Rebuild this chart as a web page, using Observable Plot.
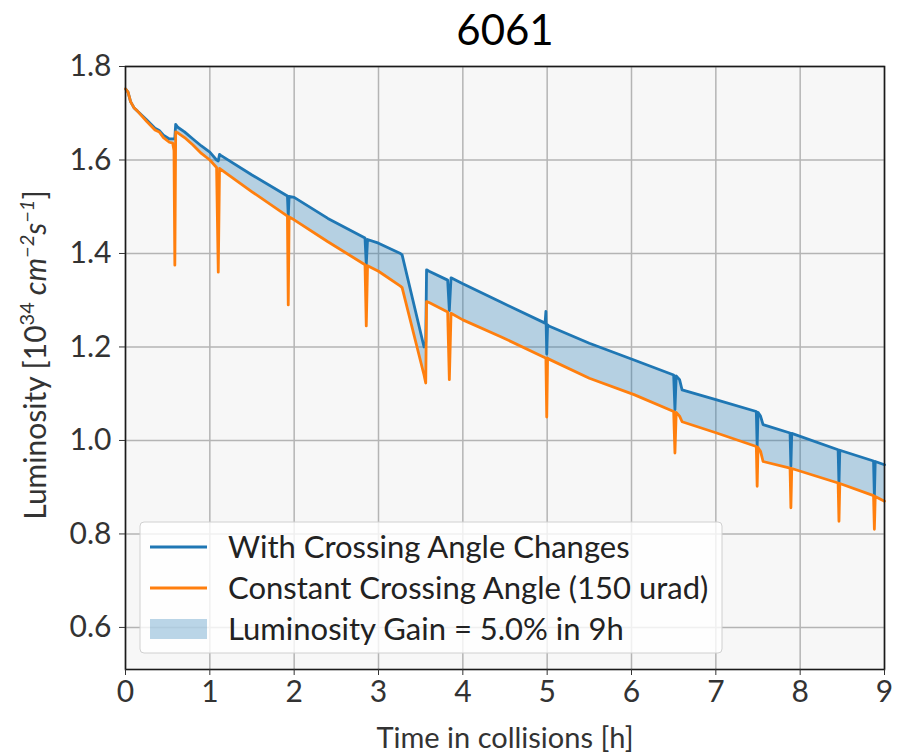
<!DOCTYPE html>
<html>
<head>
<meta charset="utf-8">
<script src="https://cdn.jsdelivr.net/npm/d3@7"></script>
<script src="https://cdn.jsdelivr.net/npm/@observablehq/plot@0.6"></script>
<style>
  html, body { margin: 0; padding: 0; background: #fff; }
  #chart { position: relative; width: 898px; height: 753px; }
  svg { font-family: Lato, "Open Sans", sans-serif; }
</style>
</head>
<body>
<div id="chart"></div>
<script>
const title = "6061";
const seriesNames = ["With Crossing Angle Changes", "Constant Crossing Angle (150 urad)"];
const fillName = "Luminosity Gain = 5.0% in 9h";
const xTicks = [0, 1, 2, 3, 4, 5, 6, 7, 8, 9];
const yTicks = [0.6, 0.8, 1.0, 1.2, 1.4, 1.6, 1.8];

// time in collisions [h]
const times = [
  0.00, 0.03, 0.06, 0.10, 0.15, 0.25, 0.35, 0.40, 0.45, 0.52,
  0.56, 0.575, 0.585, 0.595, 0.62, 0.70, 0.80, 0.90, 1.00, 1.08,
  1.10, 1.115, 1.13, 1.50, 1.92, 1.93, 1.94, 2.00, 2.40, 2.84,
  2.855, 2.87, 3.00, 3.26, 3.28, 3.54, 3.56, 3.57, 3.60, 3.82,
  3.84, 3.86, 4.00, 4.45, 4.975, 4.985, 4.995, 5.005, 5.02, 5.50,
  6.03, 6.50, 6.515, 6.53, 6.57, 6.60, 7.01, 7.48, 7.49, 7.50,
  7.53, 7.56, 7.88, 7.89, 7.90, 8.45, 8.46, 8.47, 8.87, 8.88,
  8.89, 9.00
];
// luminosity [1e34 cm^-2 s^-1]
const withChanges = [
  1.752, 1.745, 1.725, 1.712, 1.703, 1.686, 1.668, 1.663, 1.653, 1.645,
  1.645, 1.645, 1.648, 1.676, 1.670, 1.660, 1.645, 1.630, 1.617, 1.600,
  1.598, 1.612, 1.610, 1.568, 1.523, 1.480, 1.522, 1.520, 1.475, 1.433,
  1.376, 1.430, 1.422, 1.400, 1.397, 1.200, 1.210, 1.365, 1.362, 1.343,
  1.278, 1.348, 1.335, 1.296, 1.251, 1.276, 1.185, 1.247, 1.245, 1.208,
  1.172, 1.140, 1.066, 1.138, 1.130, 1.108, 1.087, 1.062, 0.987, 1.060,
  1.052, 1.034, 1.016, 0.945, 1.015, 0.980, 0.906, 0.979, 0.956, 0.880,
  0.955, 0.948
];
const constantAngle = [
  1.752, 1.745, 1.725, 1.712, 1.703, 1.683, 1.664, 1.660, 1.648, 1.638,
  1.636, 1.620, 1.375, 1.660, 1.658, 1.648, 1.632, 1.614, 1.600, 1.584,
  1.360, 1.582, 1.580, 1.532, 1.480, 1.290, 1.478, 1.472, 1.425, 1.376,
  1.245, 1.374, 1.362, 1.330, 1.327, 1.140, 1.123, 1.297, 1.295, 1.275,
  1.130, 1.272, 1.258, 1.222, 1.177, 1.176, 1.050, 1.176, 1.174, 1.133,
  1.098, 1.062, 0.973, 1.060, 1.052, 1.040, 1.016, 0.987, 0.902, 0.985,
  0.977, 0.955, 0.941, 0.856, 0.940, 0.909, 0.827, 0.908, 0.882, 0.810,
  0.880, 0.870
];

const data = times.map((t, i) => ({t, blue: withChanges[i], orange: constantAngle[i]}));

const BLUE = "#1f77b4", ORANGE = "#ff7f0e";

const plot = Plot.plot({
  width: 898,
  height: 753,
  marginLeft: 125,
  marginRight: 14,
  marginTop: 66,
  marginBottom: 84,
  style: {fontFamily: "Lato, 'Open Sans', sans-serif", background: "white"},
  x: {domain: [0, 9]},
  y: {domain: [0.51, 1.8]},
  marks: [
    Plot.frame({fill: "#f7f7f7", stroke: null}),
    Plot.gridX(xTicks, {stroke: "#b4b4b4", strokeOpacity: 1, strokeWidth: 1.5}),
    Plot.gridY(yTicks, {stroke: "#b4b4b4", strokeOpacity: 1, strokeWidth: 1.5}),
    Plot.areaY(data, {x: "t", y1: "orange", y2: "blue", fill: BLUE, fillOpacity: 0.3}),
    Plot.lineY(data, {x: "t", y: "blue", stroke: BLUE, strokeWidth: 2.8}),
    Plot.lineY(data, {x: "t", y: "orange", stroke: ORANGE, strokeWidth: 2.8}),
    Plot.frame({stroke: "#1a1a1a", strokeWidth: 1.6}),
    Plot.axisX(xTicks, {tickSize: 6, tickPadding: 5, fontSize: 30, label: null, fill: "#333", stroke: "#333"}),
    Plot.axisY(yTicks, {tickSize: 6, tickPadding: 8, fontSize: 30, tickFormat: d3.format(".1f"), label: null, fill: "#333", stroke: "#333"}),
    Plot.text([title], {frameAnchor: "top", dy: -22, lineAnchor: "bottom", fontSize: 42, fill: "#000"}),
    Plot.text(["Time in collisions [h]"], {frameAnchor: "bottom", dy: 69, lineAnchor: "middle", fontSize: 29, fill: "#333"})
  ]
});

document.getElementById("chart").appendChild(plot);

// y label with superscripts
const svg = d3.select(plot);
const yl = svg.append("text")
  .attr("transform", "translate(46,355) rotate(-90)")
  .attr("text-anchor", "middle")
  .attr("font-size", 30)
  .attr("fill", "#333");
yl.append("tspan").text("Luminosity [10");
yl.append("tspan").attr("baseline-shift", "super").attr("font-size", 20).text("34");
yl.append("tspan").attr("font-style", "italic").text(" cm");
yl.append("tspan").attr("baseline-shift", "super").attr("font-size", 20).attr("font-style", "italic").text("−2");
yl.append("tspan").attr("font-style", "italic").text("s");
yl.append("tspan").attr("baseline-shift", "super").attr("font-size", 20).attr("font-style", "italic").text("−1");
yl.append("tspan").text("]");

// legend
const lg = svg.append("g").attr("transform", "translate(140,522)").attr("text-anchor", "start");
lg.append("rect").attr("width", 582).attr("height", 131).attr("rx", 4)
  .attr("fill", "white").attr("fill-opacity", 0.8).attr("stroke", "#d0d0d0");
const rows = [
  {label: seriesNames[0], type: "line", color: BLUE},
  {label: seriesNames[1], type: "line", color: ORANGE},
  {label: fillName, type: "patch", color: BLUE}
];
rows.forEach((r, i) => {
  const cy = 25 + i * 41;
  if (r.type === "line") {
    lg.append("line").attr("x1", 10).attr("x2", 67).attr("y1", cy).attr("y2", cy)
      .attr("stroke", r.color).attr("stroke-width", 2.8);
  } else {
    lg.append("rect").attr("x", 10).attr("y", cy - 10).attr("width", 57).attr("height", 20)
      .attr("fill", r.color).attr("fill-opacity", 0.3);
  }
  lg.append("text").attr("x", 88).attr("y", cy).attr("dy", "0.35em")
    .attr("text-anchor", "start")
    .attr("font-size", 31).attr("fill", "#222").text(r.label);
});
</script>
</body>
</html>
